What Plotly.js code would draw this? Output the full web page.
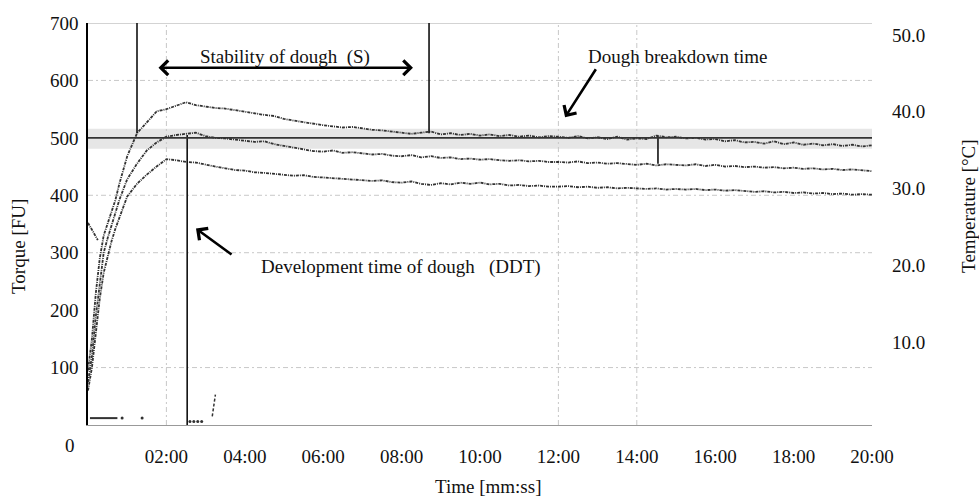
<!DOCTYPE html>
<html>
<head>
<meta charset="utf-8">
<script src="https://cdn.plot.ly/plotly-3.0.1.min.js"></script>
<style>html,body{margin:0;padding:0;background:#fff;}#chart{width:979px;height:496px;}</style>
</head>
<body>
<div id="chart"></div>
<script>
// time in minutes
const times = [0,0.1,0.2,0.3,0.4,0.5,0.6,0.7,0.8,0.9,1.0,1.25,1.5,1.75,2.0,2.25,2.5,2.75,3.0,3.25,3.5,3.75,4.0,4.25,4.5,4.75,5.0,5.25,5.5,5.75,6.0,6.25,6.5,6.75,7.0,7.25,7.5,7.75,8.0,8.25,8.5,8.75,9.0,9.25,9.5,9.75,10.0,10.25,10.5,10.75,11.0,11.25,11.5,11.75,12.0,12.25,12.5,12.75,13.0,13.25,13.5,13.75,14.0,14.25,14.5,14.75,15.0,15.25,15.5,15.75,16.0,16.25,16.5,16.75,17.0,17.25,17.5,17.75,18.0,18.25,18.5,18.75,19.0,19.25,19.5,19.75,20.0];

const torqueUpper = [95,150,230,290,330,352,372,392,420,445,468,508,528,546,550,556,562,557,554,552,551,548,546,543,540,538,533,530,527,524,522,520,518,519,516,514,513,511,510,507,509,511,506,508,505,507,504,506,503,505,502,504,501,503,502,500,503,499,501,498,502,497,499,498,504,501,502,499,500,497,498,494,496,492,493,490,494,489,492,488,490,487,489,486,488,485,487];
const torqueMiddle = [75,120,190,250,300,325,348,370,392,410,428,455,478,492,502,505,507,509,503,500,499,497,496,493,494,489,486,483,480,477,476,478,474,475,473,471,472,469,468,470,466,468,465,466,463,464,462,463,461,460,461,459,460,458,458,457,459,456,457,455,456,454,453,455,452,454,453,452,454,451,453,450,451,449,450,448,449,447,448,446,447,445,446,444,445,443,442];
const torqueLower = [60,100,160,220,265,295,320,342,362,380,398,420,436,450,463,461,458,457,453,450,447,444,443,440,439,437,436,434,435,432,431,430,429,428,427,425,426,423,422,424,420,418,421,419,422,420,422,419,420,417,418,416,417,415,415,416,414,415,413,414,412,413,412,411,412,410,411,410,411,409,410,408,409,407,406,407,405,406,404,405,403,404,402,403,401,402,401];

// initial filling segment
const startTimes = [0,0.05,0.1,0.15,0.2,0.25];
const startTorque = [352,346,340,333,327,322];

// small bottom traces
const lowTimes1 = [0.05,0.75];
const lowVals1 = [12,12];
const lowDotTimes = [0.87,1.38,2.6,2.7,2.8,2.9];
const lowDotVals = [12,12,6,6,6,6];
const lowTimes2 = [3.17,3.21,3.25];
const lowVals2 = [15,34,53];

// vertical marker lines (time, from, to)
const markerTimes = [1.25, 8.7, 2.53, 14.54];
const markerFrom = [508, 508, 0, 455];
const markerTo = [700, 700, 505, 503];

// reference line and band
const refLine = 500;
const bandLow = 481, bandHigh = 516;

// grid
const gridTimes = [2, 12, 14];
const gridTorque = [100, 300, 400, 600];

// ticks
const xTickVals = [2,4,6,8,10,12,14,16,18,20];
const xTickText = ['02:00','04:00','06:00','08:00','10:00','12:00','14:00','16:00','18:00','20:00'];
const yTickVals = [100,200,300,400,500,600,700];
const y2TickVals = [10,20,30,40,50];
const y2TickText = ['10.0','20.0','30.0','40.0','50.0'];

const FONT = 'Liberation Serif, Times New Roman, serif';
const curveStyle = {color:'#333', width:1.8, dash:'3px,1px,1px,1px'};

const traces = [
  {x:times, y:torqueUpper, mode:'lines', line:curveStyle, hoverinfo:'skip'},
  {x:times, y:torqueMiddle, mode:'lines', line:curveStyle, hoverinfo:'skip'},
  {x:times, y:torqueLower, mode:'lines', line:curveStyle, hoverinfo:'skip'},
  {x:startTimes, y:startTorque, mode:'lines', line:curveStyle, hoverinfo:'skip'},
  {x:lowTimes1, y:lowVals1, mode:'lines', line:{color:'#333', width:2}, hoverinfo:'skip'},
  {x:lowDotTimes, y:lowDotVals, mode:'markers', marker:{color:'#333', size:3}, hoverinfo:'skip'},
  {x:lowTimes2, y:lowVals2, mode:'lines', line:{color:'#333', width:1.5, dash:'3px,2px'}, hoverinfo:'skip'},
  {x:[0], y:[0], yaxis:'y2', mode:'markers', marker:{opacity:0}, hoverinfo:'skip'}
];
markerTimes.forEach((t,i)=>{
  traces.push({x:[t,t], y:[markerFrom[i], markerTo[i]], mode:'lines', line:{color:'#111', width:1.6}, hoverinfo:'skip'});
});

const shapes = [
  {type:'rect', xref:'paper', yref:'y', x0:0, x1:1, y0:bandLow, y1:bandHigh, fillcolor:'#e6e6e6', line:{width:0}, layer:'below'},
  {type:'line', xref:'paper', yref:'y', x0:0, x1:1, y0:refLine, y1:refLine, line:{color:'#333', width:1.6}},
  {type:'line', xref:'paper', yref:'y', x0:0, x1:1, y0:700, y1:700, line:{color:'#c4c4c4', width:1.5}, layer:'below'}
];
gridTimes.forEach(t=>shapes.push({type:'line', xref:'x', yref:'paper', x0:t, x1:t, y0:0, y1:1, line:{color:'#c8c8c8', width:1, dash:'5px,3px,2px,3px'}, layer:'below'}));
gridTorque.forEach(v=>shapes.push({type:'line', xref:'paper', yref:'y', x0:0, x1:1, y0:v, y1:v, line:{color:'#c8c8c8', width:1, dash:'5px,3px,2px,3px'}, layer:'below'}));

const tf = {family:FONT, size:19, color:'#111'};
const annotations = [
  {x:5.03, y:641, xref:'x', yref:'y', text:'Stability of dough\u00a0\u00a0(S)', showarrow:false, font:tf},
  {x:8.29, y:622, ax:1.76, ay:622, xref:'x', yref:'y', axref:'x', ayref:'y', text:'', showarrow:true, arrowside:'end+start', arrowhead:4, startarrowhead:4, arrowsize:1.1, startarrowsize:1.1, arrowwidth:2.6, arrowcolor:'#000'},
  {x:15.03, y:641, xref:'x', yref:'y', text:'Dough breakdown time', showarrow:false, font:tf},
  {x:12.17, y:536, ax:12.98, ay:622, xref:'x', yref:'y', axref:'x', ayref:'y', text:'', showarrow:true, arrowhead:4, arrowsize:1.1, arrowwidth:2.6, arrowcolor:'#000'},
  {x:7.98, y:276, xref:'x', yref:'y', text:'Development time of dough\u00a0\u00a0\u00a0(DDT)', showarrow:false, font:tf},
  {x:2.755, y:342, ax:3.70, ay:295, xref:'x', yref:'y', axref:'x', ayref:'y', text:'', showarrow:true, arrowhead:4, arrowsize:1.1, arrowwidth:2.6, arrowcolor:'#000'},
  {x:-0.023, y:-0.05, xref:'paper', yref:'paper', text:'0', showarrow:false, font:tf, xanchor:'center', yanchor:'middle'},
  {x:-0.088, y:0.443, xref:'paper', yref:'paper', text:'Torque [FU]', textangle:-90, showarrow:false, font:tf, xanchor:'center', yanchor:'middle'},
  {x:1.1237, y:0.545, xref:'paper', yref:'paper', text:'Temperature [°C]', textangle:-90, showarrow:false, font:tf, xanchor:'center', yanchor:'middle'},
  {x:0.510, y:-0.152, xref:'paper', yref:'paper', text:'Time [mm:ss]', showarrow:false, font:tf, xanchor:'center', yanchor:'middle'}
];

const layout = {
  width:979, height:496,
  margin:{l:88, r:107, t:23, b:71},
  paper_bgcolor:'#fff', plot_bgcolor:'#fff',
  showlegend:false,
  font:{family:FONT, size:19, color:'#111'},
  xaxis:{range:[0,20], tickvals:xTickVals, ticktext:xTickText, showgrid:false, zeroline:false,
         showline:true, linecolor:'#999', linewidth:1.2, ticks:'', ticklabelstandoff:14, tickfont:tf},
  yaxis:{range:[0,700], tickvals:yTickVals, showgrid:false, zeroline:false,
         showline:true, linecolor:'#000', linewidth:1.8, ticks:'', ticklabelstandoff:4, tickfont:tf},
  yaxis2:{overlaying:'y', side:'right', range:[-0.81,51.56], tickvals:y2TickVals, ticktext:y2TickText,
          showgrid:false, zeroline:false, showline:false, ticks:'', ticklabelstandoff:19, tickfont:tf},
  shapes:shapes,
  annotations:annotations
};

Plotly.newPlot('chart', traces, layout, {displayModeBar:false, staticPlot:true});
</script>
</body>
</html>
